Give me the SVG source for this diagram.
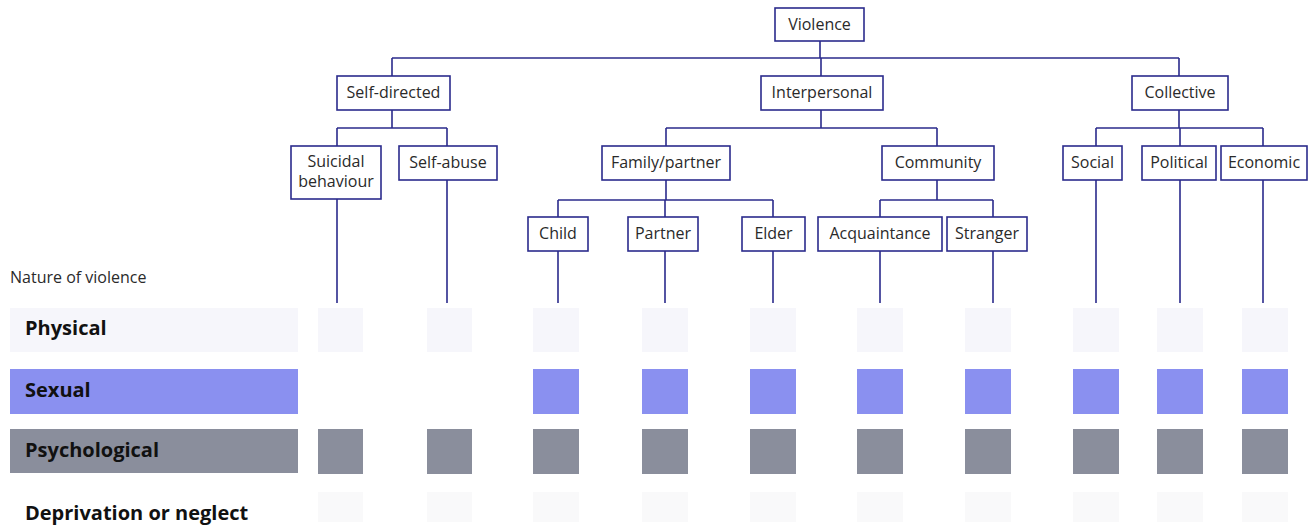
<svg xmlns="http://www.w3.org/2000/svg" width="1316" height="531" viewBox="0 0 1316 531">
<style>
.box{fill:#fff;stroke:#2b2b8c;stroke-width:1.6}
.lbl{font-family:"Open Sans","Liberation Sans",sans-serif;font-size:16px;fill:#2a2a2a;text-anchor:middle}
.row{font-family:"Open Sans","Liberation Sans",sans-serif;font-size:20px;font-weight:bold;fill:#111}
.con{fill:none;stroke:#2b2b8c;stroke-width:1.6}
.phys{fill:#f6f6fb}
.sex{fill:#8a90f0}
.psy{fill:#8a8e9c}
.dep{fill:#f9f9fa}
</style>
<rect width="1316" height="531" fill="#fff"/>
<g id="connectors">
<path class="con" d="M820 41V58M392 58H1179M392 58V76M821 58V76M1179 58V76"/>
<path class="con" d="M392 110V128M337 128H447M337 128V146M447 128V146"/>
<path class="con" d="M821 110V128M666 128H937M666 128V146M937 128V146"/>
<path class="con" d="M1179 110V128M1096 128H1263M1096 128V146M1180 128V146M1263 128V146"/>
<path class="con" d="M666 180V200M558 200H773M558 200V217M665 200V217M773 200V217"/>
<path class="con" d="M937 180V200M880 200H993M880 200V217M993 200V217"/>
<path class="con" d="M337 199V303M447 180V303M558 251V303M665 251V303M773 251V303M880 251V303M993 251V303M1096 180V303M1180 180V303M1263 180V303"/>
</g>
<g id="violence"><rect class="box" x="775" y="8" width="89" height="33"/><text class="lbl" x="819.5" y="30">Violence</text></g>
<g id="self-directed"><rect class="box" x="337" y="76" width="113" height="34"/><text class="lbl" x="393.5" y="98">Self-directed</text></g>
<g id="interpersonal"><rect class="box" x="761" y="76" width="122" height="34"/><text class="lbl" x="822" y="98">Interpersonal</text></g>
<g id="collective"><rect class="box" x="1132" y="76" width="96" height="34"/><text class="lbl" x="1180" y="98">Collective</text></g>
<g id="suicidal"><rect class="box" x="291" y="146" width="90" height="53"/><text class="lbl" x="336" y="167">Suicidal</text><text class="lbl" x="336" y="187">behaviour</text></g>
<g id="self-abuse"><rect class="box" x="399" y="146" width="98" height="34"/><text class="lbl" x="448" y="168">Self-abuse</text></g>
<g id="family"><rect class="box" x="602" y="146" width="128" height="34"/><text class="lbl" x="666" y="168">Family/partner</text></g>
<g id="community"><rect class="box" x="882" y="146" width="112" height="34"/><text class="lbl" x="938" y="168">Community</text></g>
<g id="social"><rect class="box" x="1063" y="146" width="59" height="34"/><text class="lbl" x="1092.5" y="168">Social</text></g>
<g id="political"><rect class="box" x="1142" y="146" width="74" height="34"/><text class="lbl" x="1179" y="168">Political</text></g>
<g id="economic"><rect class="box" x="1221" y="146" width="86" height="34"/><text class="lbl" x="1264" y="168">Economic</text></g>
<g id="child"><rect class="box" x="528" y="217" width="60" height="34"/><text class="lbl" x="558" y="239">Child</text></g>
<g id="partner"><rect class="box" x="628" y="217" width="70" height="34"/><text class="lbl" x="663" y="239">Partner</text></g>
<g id="elder"><rect class="box" x="742" y="217" width="63" height="34"/><text class="lbl" x="773.5" y="239">Elder</text></g>
<g id="acquaintance"><rect class="box" x="818" y="217" width="124" height="34"/><text class="lbl" x="880" y="239">Acquaintance</text></g>
<g id="stranger"><rect class="box" x="947" y="217" width="80" height="34"/><text class="lbl" x="987" y="239">Stranger</text></g>
<g id="legend">
<text x="10" y="283" font-family="'Open Sans','Liberation Sans',sans-serif" font-size="16" fill="#2a2a2a">Nature of violence</text>
<rect class="phys" x="10" y="308" width="288" height="44"/>
<g class="phys">
<rect x="318" y="308" width="45" height="44"/><rect x="427" y="308" width="45" height="44"/><rect x="533" y="308" width="46" height="44"/><rect x="642" y="308" width="46" height="44"/><rect x="750" y="308" width="46" height="44"/><rect x="857" y="308" width="46" height="44"/><rect x="965" y="308" width="46" height="44"/><rect x="1073" y="308" width="46" height="44"/><rect x="1157" y="308" width="46" height="44"/><rect x="1242" y="308" width="46" height="44"/>
</g>
<text class="row" x="25" y="335">Physical</text>
<rect class="sex" x="10" y="369" width="288" height="45"/>
<g class="sex">
<rect x="533" y="369" width="46" height="45"/><rect x="642" y="369" width="46" height="45"/><rect x="750" y="369" width="46" height="45"/><rect x="857" y="369" width="46" height="45"/><rect x="965" y="369" width="46" height="45"/><rect x="1073" y="369" width="46" height="45"/><rect x="1157" y="369" width="46" height="45"/><rect x="1242" y="369" width="46" height="45"/>
</g>
<text class="row" x="25" y="397">Sexual</text>
<rect class="psy" x="10" y="429" width="288" height="44"/>
<g class="psy">
<rect x="318" y="429" width="45" height="45"/><rect x="427" y="429" width="45" height="45"/><rect x="533" y="429" width="46" height="45"/><rect x="642" y="429" width="46" height="45"/><rect x="750" y="429" width="46" height="45"/><rect x="857" y="429" width="46" height="45"/><rect x="965" y="429" width="46" height="45"/><rect x="1073" y="429" width="46" height="45"/><rect x="1157" y="429" width="46" height="45"/><rect x="1242" y="429" width="46" height="45"/>
</g>
<text class="row" x="25" y="457">Psychological</text>
<g class="dep">
<rect x="318" y="492" width="45" height="30"/><rect x="427" y="492" width="45" height="30"/><rect x="533" y="492" width="46" height="30"/><rect x="642" y="492" width="46" height="30"/><rect x="750" y="492" width="46" height="30"/><rect x="857" y="492" width="46" height="30"/><rect x="965" y="492" width="46" height="30"/><rect x="1073" y="492" width="46" height="30"/><rect x="1157" y="492" width="46" height="30"/><rect x="1242" y="492" width="46" height="30"/>
</g>
<text class="row" x="25" y="520">Deprivation or neglect</text>
</g>
</svg>
